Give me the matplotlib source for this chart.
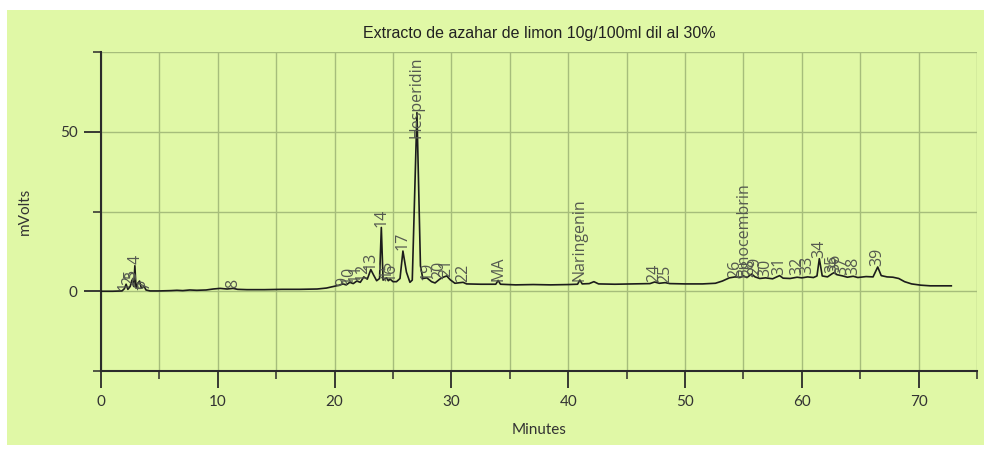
import matplotlib
matplotlib.use("Agg")
import matplotlib.pyplot as plt
from matplotlib.patches import Rectangle

# chromatogram trace (minutes, mVolts)
minutes = [0.0, 1.0, 1.8, 2.0, 2.15, 2.3, 2.5, 2.65, 2.8, 2.9, 3.0, 3.15, 3.3, 3.45,
           3.7, 3.85, 4.2, 5.0, 6.0, 6.5, 7.0, 7.6, 8.2, 9.0, 9.6, 10.2, 10.8, 11.3,
           11.7, 12.5, 14.0, 15.5, 17.0, 18.5, 19.3, 19.9, 20.4, 20.7, 21.0, 21.3,
           21.6, 21.9, 22.2, 22.5, 22.8, 23.1, 23.35, 23.6, 23.85, 24.0, 24.15,
           24.45, 24.6, 24.75, 25.0, 25.3, 25.6, 25.85, 26.15, 26.45, 26.65, 27.05,
           27.35, 27.55, 27.9, 28.3, 28.6, 29.0, 29.3, 29.6, 29.9, 30.3, 31.0, 31.3,
           32.5, 33.8, 34.0, 34.2, 35.5, 37.0, 38.5, 40.0, 40.8, 41.0, 41.2, 41.8,
           42.2, 42.6, 44.0, 45.5, 47.0, 47.4, 47.8, 48.3, 48.7, 50.0, 51.5, 52.6,
           53.2, 53.8, 54.3, 54.7, 55.0, 55.3, 55.7, 56.0, 56.4, 56.9, 57.5, 58.1,
           58.4, 59.0, 59.6, 60.0, 60.5, 61.0, 61.3, 61.5, 61.75, 62.2, 62.6, 62.8,
           63.0, 63.5, 63.9, 64.4, 64.8, 65.5, 66.1, 66.5, 66.8, 67.3, 67.8, 68.3,
           68.8, 69.4, 70.2, 71.0, 72.8]
mvolts = [0.0, 0.0, 0.1, 0.8, 2.2, 0.6, 1.5, 3.5, 1.5, 8.0, 1.0, 2.5, 3.2, 1.0,
          1.5, 0.4, 0.1, 0.1, 0.2, 0.3, 0.2, 0.4, 0.3, 0.4, 0.7, 0.9, 0.7, 0.9,
          0.6, 0.5, 0.5, 0.6, 0.6, 0.7, 1.0, 1.5, 1.9, 2.3, 2.0, 2.8,
          2.4, 3.2, 2.8, 4.5, 3.8, 6.8, 5.0, 3.3, 4.0, 20.0, 3.5,
          4.2, 3.3, 3.8, 3.0, 3.0, 4.0, 12.6, 6.0, 2.8, 3.5, 56.0,
          8.0, 4.0, 4.2, 3.0, 2.6, 3.8, 4.4, 4.8, 3.6, 2.5, 2.8, 2.3,
          2.2, 2.2, 3.4, 2.2, 2.0, 2.1, 2.0, 2.1, 2.2, 3.5, 2.3, 2.4,
          3.0, 2.3, 2.2, 2.3, 2.4, 2.9, 2.5, 2.7, 2.4, 2.3, 2.3, 2.5,
          3.2, 4.2, 4.5, 4.3, 4.8, 4.3, 5.4, 4.5, 4.0, 4.2, 3.9, 4.9,
          4.1, 4.0, 4.4, 4.2, 4.5, 4.3, 4.8, 10.2, 4.8, 4.5, 5.5, 5.9,
          5.2, 4.8, 4.4, 4.7, 4.3, 4.6, 4.5, 7.6, 4.9, 4.5, 4.4, 4.0,
          3.0, 2.3, 1.9, 1.7, 1.7]

# peak labels: name, retention time, height where label starts
peak_names = ["1", "2", "3", "4", "5", "6", "7", "8", "9", "10", "11", "12", "13",
              "14", "15", "16", "17", "Hesperidin", "19", "20", "21", "22", "MA",
              "Naringenin", "24", "25", "26", "Pinocembrin", "28", "29", "30", "31",
              "32", "33", "34", "35", "36", "37", "38", "39"]
peak_times = [2.05, 2.45, 2.65, 2.95, 2.6, 3.4, 3.75, 11.3, 20.7, 21.2, 21.8, 22.4,
              23.1, 24.0, 24.45, 24.8, 25.85, 27.05, 28.0, 29.0, 29.6, 31.0, 34.0,
              41.0, 47.4, 48.3, 54.3, 55.0, 55.5, 56.0, 56.9, 58.1, 59.6, 60.5,
              61.5, 62.6, 62.9, 63.5, 64.4, 66.5]
peak_label_y = [0.3, 2.0, 3.5, 8.5, 4.0, 0.8, 0.5, 1.0, 1.8, 2.3, 2.9, 3.3, 6.8,
                20.2, 4.0, 3.2, 12.8, 48.0, 3.6, 3.8, 4.5, 2.8, 3.3,
                3.3, 2.8, 2.6, 4.3, 4.6, 4.5, 5.0, 4.5, 5.0, 5.2, 5.3,
                10.5, 5.8, 6.0, 5.0, 5.0, 8.0]

title = "Extracto de azahar de limon 10g/100ml dil al 30%"

green = "#e0f8a6"
grid_c = "#a6bd7b"
dark = "#2b2b2b"

plt.rcParams["font.family"] = ["Lato", "DejaVu Sans"]

fig = plt.figure(figsize=(9.84, 4.49), dpi=100, facecolor="white")
# green card behind the chart
fig.patches.append(Rectangle((7 / 984, 4 / 449), 977 / 984, 435 / 449,
                             transform=fig.transFigure, facecolor=green,
                             edgecolor="none", zorder=-5))

ax = fig.add_axes([101 / 984, 1 - 371 / 449, 876 / 984, 319 / 449])
ax.set_facecolor(green)

ax.plot(minutes, mvolts, color="#1c1c1c", lw=1.2, zorder=3)

for name, t, y in zip(peak_names, peak_times, peak_label_y):
    ax.text(t, y, name, rotation=90, ha="center", va="bottom", fontsize=11.5,
            color="#555a50", family=["Open Sans", "DejaVu Sans"], zorder=4)

ax.set_xlim(0, 75)
ax.set_ylim(-25, 75)
ax.set_xticks(range(0, 71, 10))
ax.set_xticks(range(5, 76, 10), minor=True)
ax.set_yticks([0, 50])
ax.set_yticks([-25, 25, 75], minor=True)
ax.grid(True, which="both", color=grid_c, lw=1.0, zorder=0)
ax.set_axisbelow(True)

for s in ["top", "right"]:
    ax.spines[s].set_visible(False)
for s in ["left", "bottom"]:
    ax.spines[s].set_color(dark)
    ax.spines[s].set_linewidth(1.5)

ax.tick_params(which="major", length=12, width=1.3, color=dark, labelsize=11,
               labelcolor="#333333", pad=5)
ax.tick_params(which="minor", length=5.5, width=1.1, color=dark)

ax.set_xlabel("Minutes", fontsize=11, color="#333333", labelpad=10)
ax.set_ylabel("mVolts", fontsize=11, color="#333333", labelpad=20)
ax.set_title(title, fontsize=11.5, color="#222222", pad=10,
             family=["Liberation Sans", "DejaVu Sans"])

plt.savefig("out.png", dpi=100, facecolor=fig.get_facecolor())
